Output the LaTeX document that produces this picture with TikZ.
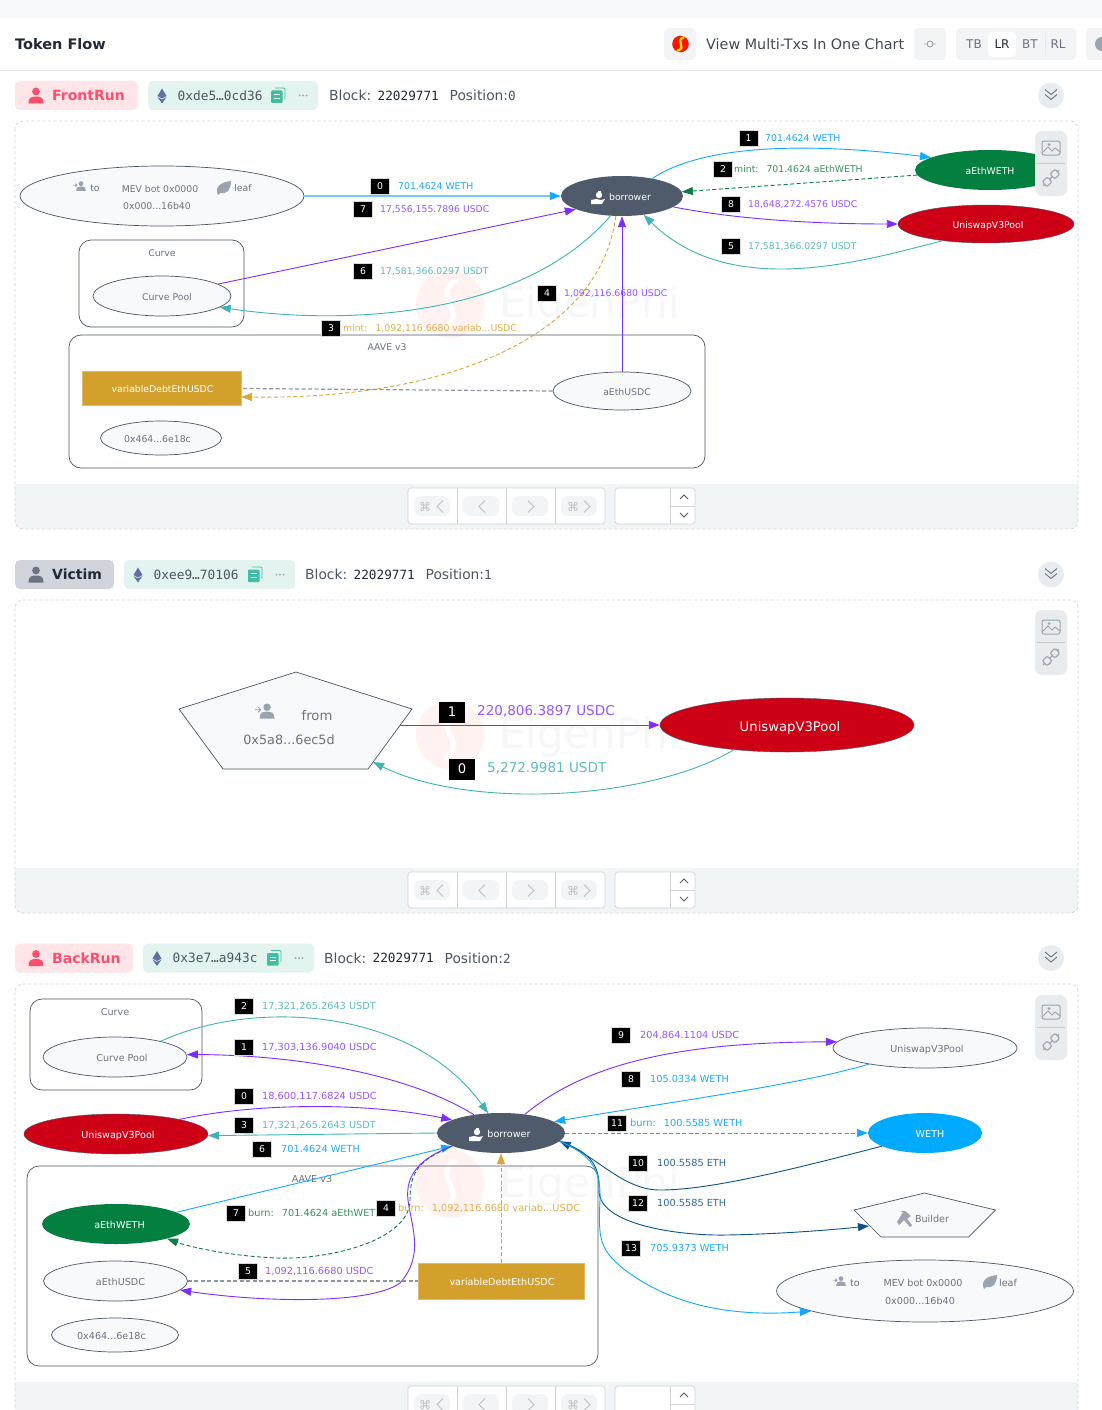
\documentclass[tikz,border=0pt]{standalone}
\usepackage{fontspec}
\setmainfont{DejaVu Sans}
\setmonofont{DejaVu Sans Mono}
\usetikzlibrary{shapes.geometric,arrows.meta}

\definecolor{pagegray}{HTML}{F8F9FB}
\definecolor{rulegray}{HTML}{E5E7EB}
\definecolor{btngray}{HTML}{F3F4F6}
\definecolor{toolgray}{HTML}{E9ECEF}
\definecolor{stripgray}{HTML}{F1F5F6}
\definecolor{dashgray}{HTML}{CFD4DA}
\definecolor{iconink}{HTML}{9CA3AF}
\definecolor{nodeline}{HTML}{4B5563}
\definecolor{nodefill}{HTML}{F8F9FB}
\definecolor{nodeink}{HTML}{6B7280}
\definecolor{bodyink}{HTML}{4B5563}
\definecolor{darkink}{HTML}{1F2937}
\definecolor{pinktag}{HTML}{FFE4E8}
\definecolor{pinkink}{HTML}{FF4D6D}
\definecolor{graytag}{HTML}{D1D5DB}
\definecolor{mintpill}{HTML}{E3F3EF}
\definecolor{copyink}{HTML}{3FBF9F}
\definecolor{ethink}{HTML}{6170A0}
\definecolor{slatefill}{HTML}{4F5A6A}
\definecolor{greenfill}{HTML}{03803F}
\definecolor{redfill}{HTML}{CD0015}
\definecolor{skyfill}{HTML}{00AAFF}
\definecolor{goldfill}{HTML}{D4A02C}
\definecolor{blueline}{HTML}{12A9FF}
\definecolor{violetline}{HTML}{7F2CFF}
\definecolor{tealline}{HTML}{3FB3B6}
\definecolor{greenline}{HTML}{087F45}
\definecolor{goldline}{HTML}{D9A63A}
\definecolor{navyline}{HTML}{0B5488}
\definecolor{grayline}{HTML}{8E95A0}
\definecolor{blueink}{HTML}{19AEFF}
\definecolor{violetink}{HTML}{9A55FF}
\definecolor{tealink}{HTML}{5CBCC0}
\definecolor{greenink}{HTML}{37925F}
\definecolor{goldink}{HTML}{E3AE4F}
\definecolor{navyink}{HTML}{2F6B94}
\definecolor{markgray}{HTML}{F6F7F9}
\definecolor{markred}{HTML}{FFF2F0}

\tikzset{
  fnine/.style={font=\fontsize{9.3}{11}\selectfont},
  ften/.style={font=\fontsize{9.6}{11}\selectfont},
  flabel/.style={font=\fontsize{9.75}{11}\selectfont},
  fbig/.style={font=\fontsize{13.2}{16}\selectfont},
  fbigger/.style={font=\fontsize{13.55}{16}\selectfont},
  tokennode/.style={ellipse,draw=nodeline,line width=.7pt,fill=nodefill,text=nodeink,inner sep=0pt,text height=8pt,text depth=0pt},
  paintnode/.style={ellipse,draw=none,text=white,inner sep=0pt,text height=8pt,text depth=0pt},
  debtnode/.style={rectangle,fill=goldfill,draw=goldfill!70!white,text=white,inner sep=0pt,text height=8pt,text depth=0pt},
  groupbox/.style={draw=nodeline,line width=.7pt,rounded corners=12pt},
  flow/.style={line width=.9pt,-{Triangle[length=11pt,width=8pt]}},
  blueflow/.style={flow,draw=blueline},
  violetflow/.style={flow,draw=violetline},
  tealflow/.style={flow,draw=tealline},
  greenflow/.style={flow,draw=greenline,dash pattern=on 4pt off 2.5pt},
  goldflow/.style={flow,draw=goldline,dash pattern=on 4pt off 2.5pt},
  navyflow/.style={flow,draw=navyline},
  grayflow/.style={line width=1.2pt,draw=grayline,dash pattern=on 4pt off 2.5pt},
  numbox/.style={fill=black,draw=black!15,line width=.4pt,text=white,inner sep=0pt,minimum width=19pt,minimum height=16pt,fnine},
  bignum/.style={fill=black,text=white,inner sep=0pt,minimum width=26pt,minimum height=21pt,fbig},
  flowtext/.style={anchor=west,inner sep=0pt,text height=7pt,text depth=1.5pt,yshift=-.75pt},
  bigtext/.style={anchor=west,inner sep=0pt,yshift=-.7pt},
  navline/.style={draw=rulegray!80!gray,line width=.7pt},
  navmark/.style={draw=black!25,line width=.8pt}
}

\newcommand{\personicon}[4]{\begin{scope}[shift={(#1,#2)},scale=#3]
  \fill[#4] (0,-4) circle (3.9);
  \fill[#4] (-7.5,8) .. controls (-8,2) and (-4,1) .. (0,1) .. controls (4,1) and (8,2) .. (7.5,8) -- cycle;
\end{scope}}
\newcommand{\adduser}[4]{\begin{scope}[shift={(#1,#2)},scale=#3]
  \fill[#4] (0,-3) circle (3);
  \fill[#4] (-6,6) .. controls (-6,1) and (-3,.5) .. (0,.5) .. controls (3,.5) and (6,1) .. (6,6) -- cycle;
  \draw[#4,line width=.8pt] (-10,-1) -- (-5,-1) (-7,-3) -- (-5,-1) -- (-7,1);
\end{scope}}
\newcommand{\leaficon}[2]{\begin{scope}[shift={(#1,#2)}]
  \fill[iconink] (-6,7) .. controls (-10,-2) and (-2,-6) .. (7,-7) .. controls (7,2) and (2,7) .. (-4,5) -- cycle;
\end{scope}}
\newcommand{\copyicon}[2]{\begin{scope}[shift={(#1,#2)}]
  \draw[copyink,line width=.9pt,rounded corners=1pt] (-3,-7.5) -- (7,-7.5) -- (7,4);
  \fill[copyink,rounded corners=1pt] (-7,-5) rectangle (4.5,7.5);
  \draw[white,line width=.8pt] (-4.5,-1) -- (2,-1) (-4.5,2.5) -- (2,2.5);
\end{scope}}
\newcommand{\imageicon}[2]{\begin{scope}[shift={(#1,#2)}]
  \draw[iconink,line width=1pt,rounded corners=2pt] (-9,-7) rectangle (9,7);
  \draw[iconink,line width=1pt] (-9,5) -- (-3,-1) -- (1,3) -- (4,0) -- (9,4);
  \fill[iconink] (-2,-3.5) circle (1.5);
\end{scope}}
\newcommand{\linkicon}[2]{\begin{scope}[shift={(#1,#2)},rotate=45]
  \draw[iconink,line width=1.1pt,rounded corners=2pt] (-9,-3.5) rectangle (-2,3.5) (2,-3.5) rectangle (9,3.5);
  \draw[iconink,line width=1.1pt] (-2,0) -- (2,0) (-11,0) -- (-9,0) (9,0) -- (11,0);
\end{scope}}
\newcommand{\loanicon}[2]{\begin{scope}[shift={(#1,#2)}]
  \fill[white] (0,-3) circle (3.2);
  \fill[white] (-1.5,-7) rectangle (1.5,-5);
  \fill[white] (-8,2) -- (-3,1) -- (2,2) -- (6,1) -- (3,6) -- (-3,6) -- (-8,6) -- cycle;
\end{scope}}

\begin{document}
\begin{tikzpicture}[x=1pt,y=-1pt]
\useasboundingbox (0,0) rectangle (1102,1410);
\clip (0,0) rectangle (1102,1410);
\fill[white] (0,0) rectangle (1102,1410);
%% top bar
\fill[pagegray] (0,0) rectangle (1102,18);
\draw[rulegray,line width=.8pt] (0,70.5) -- (1102,70.5);
\node[anchor=west,inner sep=0pt,text=darkink,font=\fontsize{14.5}{16}\selectfont\bfseries] (title) at (15,44) {Token Flow};
\fill[btngray,rounded corners=4pt] (664,28) rectangle ++(32,32);
\fill[red!85!orange] (680.5,44) circle (8.3);
\draw[yellow!90!orange,line width=2.3pt] (684,37) .. controls (674,41) and (688,47) .. (677,51);
\node[anchor=west,inner sep=0pt,text=darkink!85,font=\fontsize{14.35}{16}\selectfont] (multi) at (706,44) {View Multi-Txs In One Chart};
\fill[btngray,rounded corners=4pt] (914,28) rectangle ++(32,32);
\draw[iconink,line width=.9pt] (930,44) circle (3) (924,44) -- (927,44) (933,44) -- (936,44);
\fill[btngray,rounded corners=4pt] (956,28) rectangle ++(120,32);
\fill[white,rounded corners=4pt] (988,32) rectangle ++(28,25);
\draw[rulegray] (1045,33) -- (1045,55);
\foreach \dirname/\dirx/\dirink in {TB/974/nodeink,LR/1002/darkink,BT/1030/nodeink,RL/1058/nodeink}
  \node[text=\dirink,inner sep=0pt,font=\fontsize{12}{14}\selectfont] (dir\dirname) at (\dirx,44) {\dirname};
\fill[btngray,rounded corners=4pt] (1086,28) rectangle ++(32,32);
\fill[iconink] (1102,44) circle (7);

%% panel frames
\foreach \ytop/\ybot/\ystrip in {121/529/484,600/913/868,984/1440/1382}{
  \begin{scope}
    \clip[rounded corners=8pt] (15,\ytop) rectangle (1078,\ybot);
    \fill[stripgray] (15,\ystrip) rectangle (1078,\ybot);
  \end{scope}
  \draw[dashgray,line width=.7pt,dash pattern=on 3pt off 2.5pt,rounded corners=8pt] (15,\ytop) rectangle (1078,\ybot);
  \begin{scope}[shift={(0,\ystrip)}]
    \fill[white,rounded corners=3pt] (408,4) rectangle ++(197,36);
    \draw[navline,rounded corners=3pt] (408,4) rectangle ++(197,36);
    \draw[navline] (457,4) -- ++(0,36) (506,4) -- ++(0,36) (555,4) -- ++(0,36);
    \foreach \cellx in {432,481,530,579}
      \fill[btngray,rounded corners=7pt] (\cellx-18,12) rectangle ++(36,20);
    \foreach \keyx/\keyname in {425/a,573/b}
      \node[text=black!25,inner sep=0pt,font=\fontsize{12}{14}\selectfont] (key\keyname\ystrip) at (\keyx,22.5) {⌘};
    \draw[navmark] (443,16.5) -- ++(-6,6) -- ++(6,6) (485,16.5) -- ++(-6,6) -- ++(6,6);
    \draw[navmark] (528,16.5) -- ++(6,6) -- ++(-6,6) (584,16.5) -- ++(6,6) -- ++(-6,6);
    \fill[white,rounded corners=3pt] (615,4) rectangle ++(80,36);
    \draw[navline,rounded corners=3pt] (615,4) rectangle ++(80,36);
    \draw[navline] (670,4) -- ++(0,36) (670,22) -- ++(25,0);
    \draw[black!65,line width=.8pt] (680,15) -- ++(4,-4) -- ++(4,4) (680,29) -- ++(4,4) -- ++(4,-4);
  \end{scope}
}
%% watermark
\foreach \marky/\markid in {304/a,735/b,1184/c}{
  \fill[markred] (450,\marky) ellipse (34 and 34);
  \draw[white,line width=5pt] (456,\marky-24) .. controls (430,\marky-8) and (470,\marky+8) .. (444,\marky+24);
  \node[anchor=west,inner sep=0pt,text=markgray,font=\fontsize{42}{46}\selectfont] (mark\markid) at (499,\marky+2) {EigenPhi};
}
%% panel headers
\foreach \cy/\tagend/\tagfill/\tagink/\headink/\tagname/\pillx/\pillend/\addr/\blkx/\pos in {
  95.5/138/pinktag/pinkink/pinkink/FrontRun/148/318/0xde5…0cd36/329/0,
  574.5/114/graytag/darkink/nodeink/Victim/124/295/0xee9…70106/305/1,
  958/133/pinktag/pinkink/pinkink/BackRun/143/314/0x3e7…a943c/324/2}{
  \begin{scope}[shift={(0,\cy)}]
    \fill[\tagfill,rounded corners=5pt] (15,-14.5) rectangle (\tagend,14.5);
    \personicon{36}{0}{1}{\headink}
    \node[anchor=west,inner sep=0pt,text=\tagink,font=\fontsize{14}{16}\selectfont\bfseries] (tag\pos) at (52,0) {\tagname};
    \fill[mintpill,rounded corners=5pt] (\pillx,-14.5) rectangle (\pillend,14.5);
    \fill[ethink] (\pillx+14,-7) -- ++(4.5,7.5) -- ++(-4.5,2.5) -- ++(-4.5,-2.5) -- cycle;
    \fill[ethink] (\pillx+14,4) -- ++(4.5,-2.5) -- ++(-4.5,6.5) -- ++(-4.5,-6.5) -- cycle;
    \node[anchor=west,inner sep=0pt,text=bodyink,font=\ttfamily\fontsize{12.8}{15}\selectfont] (addr\pos) at (\pillx+29.5,0) {\addr};
    \copyicon{\pillend-40}{0}
    \foreach \dotx in {-3.5,0,3.5}
      \fill[iconink] (\pillend-15+\dotx,0) circle (1);
    \node[anchor=west,inner sep=0pt,text=bodyink,font=\fontsize{13.8}{16}\selectfont] (blk\pos) at (\blkx,0) {Block:};
    \node[anchor=west,inner sep=0pt,text=darkink,font=\ttfamily\fontsize{12.7}{15}\selectfont] (num\pos) at (\blkx+48.5,0) {22029771};
    \node[anchor=west,inner sep=0pt,text=bodyink,font=\fontsize{13.8}{16}\selectfont] (posn\pos) at (\blkx+120.5,0) {Position:{\ttfamily\fontsize{12.7}{15}\selectfont\pos}};
    \fill[toolgray] (1051,0) circle (13);
    \draw[nodeink,line width=.9pt] (1045,-6) -- ++(6,5) -- ++(6,-5) (1045,-1) -- ++(6,5) -- ++(6,-5);
  \end{scope}
}

%% FrontRun
\node[tokennode,minimum width=284pt,minimum height=60pt] (mev1) at (162,196) {};
\adduser{81}{186}{.8}{iconink}
\node[text=nodeink,inner sep=0pt,fnine] (mevto1) at (95,188.5) {to};
\node[text=nodeink,inner sep=0pt,fnine] (mevname1) at (160,189) {MEV bot 0x0000};
\leaficon{224}{188}
\node[text=nodeink,inner sep=0pt,fnine] (mevleaf1) at (243,188.5) {leaf};
\node[text=nodeink,inner sep=0pt,fnine] (mevaddr1) at (157,206) {0x000...16b40};
\draw[groupbox] (79,240) rectangle (244,327);
\node[text=nodeink,inner sep=0pt,fnine] (curvetag1) at (162,253) {Curve};
\node[tokennode,fnine,minimum width=138pt,minimum height=40pt] (pool1) at (162,296) {\hspace{10pt}Curve Pool};
\draw[groupbox] (69,335) rectangle (705,468);
\node[text=nodeink,inner sep=0pt,fnine] (aavetag1) at (387,347) {AAVE v3};
\node[debtnode,fnine,minimum width=159pt,minimum height=34pt] (debt1) at (161.5,388.5) {\hspace{2pt}variableDebtEthUSDC};
\node[tokennode,fnine,minimum width=138pt,minimum height=38pt] (ausdc1) at (622,391) {\hspace{10pt}aEthUSDC};
\node[tokennode,fnine,minimum width=121pt,minimum height=34pt] (owner1) at (161,438) {\hspace{-7pt}0x464...6e18c};
\node[paintnode,fill=slatefill,fnine,minimum width=122pt,minimum height=40pt] (bor1) at (622,196) {\hspace{16pt}borrower};
\loanicon{599}{198}
\node[paintnode,fill=greenfill,fnine,minimum width=150pt,minimum height=40pt] (aweth1) at (990,170) {aEthWETH};
\node[paintnode,fill=redfill,draw=nodeline,fnine,minimum width=176pt,minimum height=38pt] (uni1) at (986,224) {\hspace{4pt}UniswapV3Pool};
\draw[flow,draw=blueline!60,line width=1.4pt,-{Triangle[length=11pt,width=8pt,color=blueline]}] (mev1.east) -- (bor1.west);
\draw[blueflow] (bor1.30) .. controls (710,140) and (830,145) .. (aweth1.168);
\draw[greenflow] (aweth1.184) -- (bor1.4);
\draw[violetflow] (bor1.-12) .. controls (740,220) and (820,224) .. (uni1.west);
\draw[tealflow] (uni1.201) .. controls (860,262) and (730,300) .. (bor1.-41);
\draw[violetflow] (pool1.12.5) -- (bor1.196);
\draw[tealflow] (bor1.240) .. controls (520,320) and (340,325) .. (pool1.-11);
\draw[violetflow] (ausdc1.north) -- (bor1.south);
\draw[goldflow] (bor1.253) .. controls (600,340) and (440,400) .. (debt1.-6.5);
\draw[grayflow] (ausdc1.west) -- (debt1.east);
\foreach \num/\boxx/\boxy/\textx/\ink/\txt in {
  0/380/186/398/blueink/{701.4624 WETH},
  7/363/209/380/violetink/{17,556,155.7896 USDC},
  1/748.5/138/765/blueink/{701.4624 WETH},
  2/723/169/734/greenink/{mint:\hspace{8pt}701.4624 aEthWETH},
  8/731/204/748/violetink/{18,648,272.4576 USDC},
  5/731/246/748/tealink/{17,581,366.0297 USDT},
  6/363/271/380/tealink/{17,581,366.0297 USDT},
  4/547/293/564/violetink/{1,092,116.6680 USDC},
  3/331/328/343/goldink/{mint:\hspace{8pt}1,092,116.6680 variab...USDC}}{
  \node[numbox] (fbox\num) at (\boxx,\boxy) {\num};
  \node[flowtext,text=\ink,fnine] (ftext\num) at (\textx,\boxy) {\txt};
}

%% Victim
\draw[draw=nodeline,line width=.7pt,fill=nodefill] (296,672) -- (412,709) -- (368,769) -- (223,769) -- (179,709) -- cycle;
\coordinate (fromout) at (400,725);
\coordinate (fromin) at (373,762);
\adduser{267}{711}{1.25}{iconink}
\node[text=nodeink,inner sep=0pt,fbig] (fromname) at (317,716) {from};
\node[text=nodeink,inner sep=0pt,font=\fontsize{12.8}{16}\selectfont] (fromaddr) at (289,740) {0x5a8...6ec5d};
\node[paintnode,fill=redfill,draw=nodeline,fbig,minimum width=254pt,minimum height=54pt,text height=12pt] (uni2) at (787,725) {\hspace{6pt}UniswapV3Pool};
\draw[violetflow] (fromout) -- (uni2.west);
\draw[tealflow] (uni2.205) .. controls (650,800) and (470,810) .. (fromin);
\node[bignum] (vbox1) at (452,712) {1};
\node[bigtext,text=violetink,fbigger] (vtext1) at (477,711) {220,806.3897 USDC};
\node[bignum] (vbox0) at (462,769) {0};
\node[bigtext,text=tealink,fbigger] (vtext0) at (487,768) {5,272.9981 USDT};

%% BackRun
\draw[groupbox] (30,999) rectangle (202,1090);
\node[text=nodeink,inner sep=0pt,ften] (curvetag3) at (115,1012) {Curve};
\node[tokennode,ften,minimum width=144pt,minimum height=40pt] (pool3) at (115,1057) {\hspace{14pt}Curve Pool};
\draw[groupbox] (27,1166) rectangle (598,1366);
\node[text=nodeink,inner sep=0pt,ften] (aavetag3) at (312,1179) {AAVE v3};
\node[paintnode,fill=redfill,draw=nodeline,ften,minimum width=184pt,minimum height=40pt] (uni3) at (116,1134) {\hspace{4pt}UniswapV3Pool};
\node[paintnode,fill=slatefill,ften,minimum width=128pt,minimum height=40pt] (bor3) at (501,1133) {\hspace{16pt}borrower};
\loanicon{477}{1135}
\node[paintnode,fill=greenfill,ften,minimum width=148pt,minimum height=40pt] (aweth3) at (116,1224) {\hspace{7pt}aEthWETH};
\node[tokennode,ften,minimum width=144pt,minimum height=40pt] (ausdc3) at (115.5,1281) {\hspace{10pt}aEthUSDC};
\node[tokennode,ften,minimum width=127pt,minimum height=34pt] (owner3) at (115,1335) {\hspace{-7pt}0x464...6e18c};
\node[debtnode,ften,minimum width=166pt,minimum height=36pt] (debt3) at (501,1281) {\hspace{2pt}variableDebtEthUSDC};
\node[tokennode,ften,minimum width=184pt,minimum height=40pt] (uniw3) at (925,1048) {\hspace{4pt}UniswapV3Pool};
\node[paintnode,fill=skyfill,ften,minimum width=114pt,minimum height=40pt] (weth3) at (925,1133) {\hspace{10pt}WETH};
\draw[draw=nodeline,line width=.7pt,fill=nodefill] (924.5,1193) -- (995.5,1210) -- (968.5,1237) -- (881,1237) -- (854,1210) -- cycle;
\coordinate (builderin) at (869,1226);
\fill[iconink] (897,1222) -- (903,1212) -- (900,1211) -- (905,1211) -- (911,1216) -- (907,1219) -- (912,1225) -- (910,1227) -- (904,1220) -- (899,1225) -- cycle;
\node[text=nodeink,inner sep=0pt,ften] (buildername) at (932,1219) {Builder};
\node[tokennode,minimum width=297pt,minimum height=62pt] (mev3) at (925,1291) {};
\adduser{841}{1281}{.8}{iconink}
\node[text=nodeink,inner sep=0pt,ften] (mevto3) at (855,1283) {to};
\node[text=nodeink,inner sep=0pt,ften] (mevname3) at (923,1283) {MEV bot 0x0000};
\leaficon{990}{1282}
\node[text=nodeink,inner sep=0pt,ften] (mevleaf3) at (1008,1283) {leaf};
\node[text=nodeink,inner sep=0pt,ften] (mevaddr3) at (920,1301) {0x000...16b40};
\draw[tealflow] (pool3.19.6) .. controls (250,1000) and (410,1005) .. (bor3.123);
\draw[violetflow] (bor3.146) .. controls (410,1075) and (300,1055) .. (pool3.2);
\draw[violetflow] (uni3.13) .. controls (260,1102) and (370,1103) .. (bor3.165);
\draw[tealflow] (bor3.west) -- (uni3.-1);
\draw[blueflow] (aweth3.11.5) -- (bor3.195);
\draw[greenflow] (bor3.195) .. controls (420,1160) and (410,1170) .. (410,1200) .. controls (410,1240) and (330,1260) .. (277,1258) .. controls (230,1256) and (190,1247) .. (aweth3.-16);
\draw[violetflow] (bor3.195) .. controls (420,1158) and (405,1175) .. (408,1200) .. controls (411,1225) and (425,1255) .. (400,1283) .. controls (370,1305) and (260,1302) .. (ausdc3.-8);
\draw[grayflow] (ausdc3.east) -- (debt3.west);
\draw[goldflow] (debt3.north) -- (bor3.south);
\draw[violetflow] (bor3.38) .. controls (590,1060) and (690,1042) .. (uniw3.176.8);
\draw[blueflow] (uniw3.196.5) .. controls (800,1085) and (650,1105) .. (bor3.12.5);
\draw[blueflow,dash pattern=on 4pt off 2.5pt] (bor3.east) -- (weth3.west);
\draw[navyflow] (weth3.197) .. controls (790,1170) and (710,1190) .. (660,1190) .. controls (625,1190) and (600,1160) .. (bor3.-8);
\draw[navyflow] (bor3.-8) .. controls (590,1152) and (600,1165) .. (599,1190) .. controls (598,1225) and (680,1236) .. (727,1235) .. controls (780,1234) and (830,1230) .. (builderin);
\draw[blueflow] (bor3.-8) .. controls (592,1155) and (601,1170) .. (600,1200) .. controls (598,1240) and (600,1250) .. (625,1270) .. controls (665,1300) and (720,1318) .. (mev3.190.7);
\foreach \num/\boxx/\boxy/\textx/\ink/\txt in {
  2/244/1006/262/tealink/{17,321,265.2643 USDT},
  1/244/1047/262/violetink/{17,303,136.9040 USDC},
  0/244/1096/262/violetink/{18,600,117.6824 USDC},
  3/244/1125/262/tealink/{17,321,265.2643 USDT},
  6/262/1149/281/blueink/{701.4624 WETH},
  9/621/1035/640/violetink/{204,864.1104 USDC},
  8/631/1079/650/blueink/{105.0334 WETH},
  11/617/1123/630/blueink/{burn:\hspace{8pt}100.5585 WETH},
  10/638/1163/657/navyink/{100.5585 ETH},
  12/638/1203/657/navyink/{100.5585 ETH},
  13/631/1248/650/blueink/{705.9373 WETH},
  7/236/1213/248/greenink/{burn:\hspace{8pt}701.4624 aEthWETH},
  4/386/1208/398/goldink/{burn:\hspace{8pt}1,092,116.6680 variab...USDC},
  5/248/1271/265/violetink/{1,092,116.6680 USDC}}{
  \node[numbox] (bbox\num) at (\boxx,\boxy) {\num};
  \node[flowtext,text=\ink,flabel] (btext\num) at (\textx,\boxy) {\txt};
}

%% side tools
\foreach \tooly in {131,610,995}{
  \begin{scope}[shift={(0,\tooly)}]
    \fill[toolgray,rounded corners=7pt] (1035,0) rectangle ++(32,65);
    \draw[rulegray!70!gray,line width=.6pt] (1037,32) -- ++(28,0);
    \imageicon{1051}{17}
    \linkicon{1051}{47}
  \end{scope}
}
\end{tikzpicture}
\end{document}
